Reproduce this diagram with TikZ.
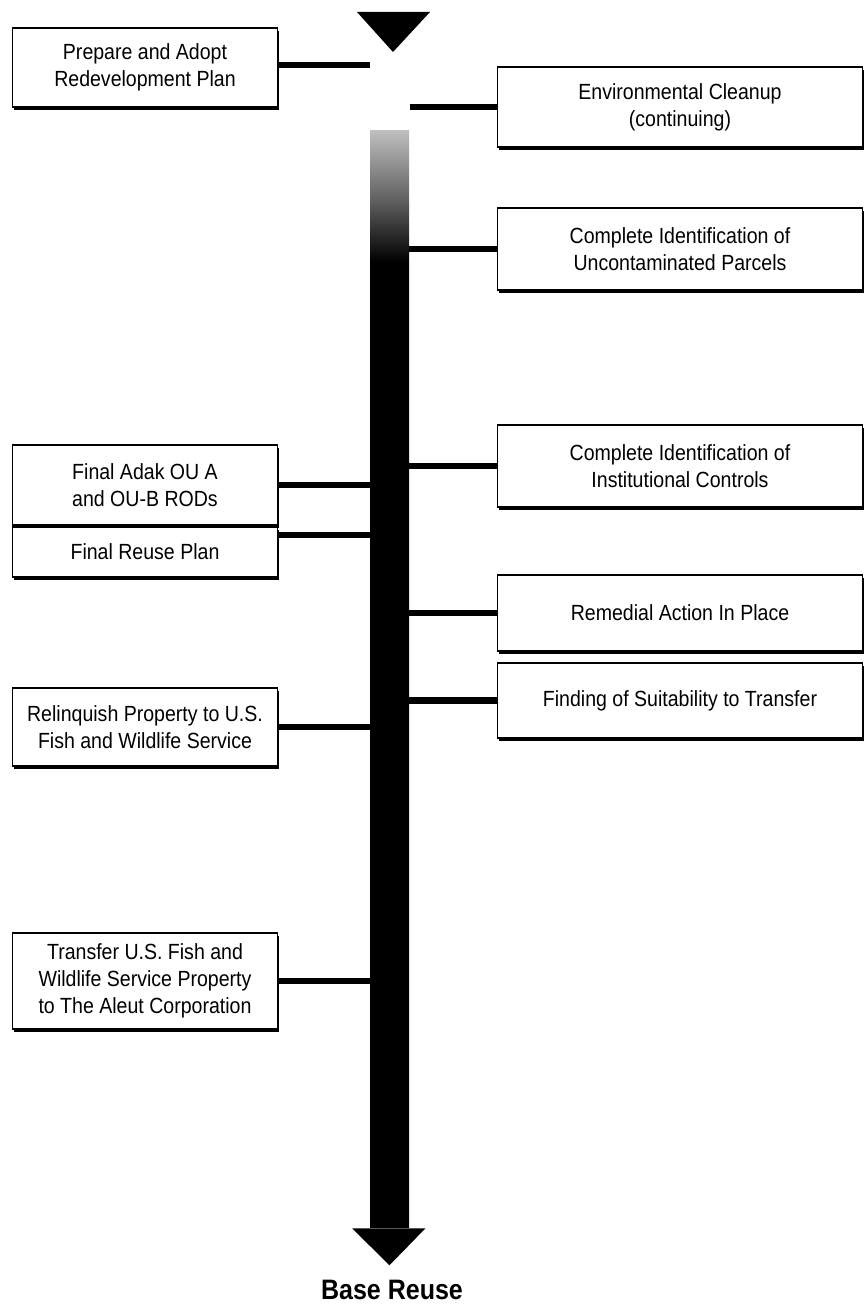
\documentclass[tikz,border=0pt]{standalone}
\usepackage{fontspec}
\setmainfont{Liberation Sans}[FakeStretch=0.89]
\usetikzlibrary{shadows,positioning}
\pgfdeclareverticalshading{barfade}{100bp}{color(0bp)=(black); color(69bp)=(black); color(72bp)=(black!60); color(75bp)=(black!25); color(100bp)=(black!25)}
\begin{document}
\begin{tikzpicture}[x=0.02cm,y=-0.02cm,line join=miter]
    \tikzset{box/.style={draw,line width=1pt,fill=white,align=center,inner sep=0pt,
            font=\fontsize{12.5}{15.3}\selectfont,
            drop shadow={shadow xshift=1pt,shadow yshift=-1.6pt,fill=black,opacity=1}},
        lbox/.style={box,minimum width=5.3cm},
        rbox/.style={box,minimum width=7.3cm},
        link/.style={line width=3.6pt}}
    \useasboundingbox (0,0) rectangle (865,1311);
    \node[shade,shading=barfade,minimum width=0.78cm,minimum height=21.96cm,inner sep=0pt] (bar) at (389.5,679) {};
    \fill (357,12) -- (430,12) -- (393,52) -- cycle;
    \fill ([xshift=-0.75cm]bar.south) -- ([xshift=0.72cm]bar.south) -- ([yshift=-0.74cm]bar.south) -- cycle;
    \node[font=\fontsize{16}{19}\selectfont\bfseries] (goal) at (392,1290) {Base Reuse};
    % left column
    \node[lbox,minimum height=1.58cm] (prep) at (145,67.5) {Prepare and Adopt\\Redevelopment Plan};
    \node[lbox,minimum height=1.6cm] (adak) at (145,485) {Final Adak OU A\\and OU-B RODs};
    \node[lbox,minimum height=1.0cm,below=0pt of adak] (reuse) {Final Reuse Plan};
    \node[lbox,minimum height=1.56cm] (relinq) at (145,727) {Relinquish Property to U.S.\\Fish and Wildlife Service};
    \node[lbox,minimum height=1.92cm] (transfer) at (145,981) {Transfer U.S. Fish and\\Wildlife Service Property\\to The Aleut Corporation};
    % right column
    \node[rbox,minimum height=1.6cm] (env) at (680,107) {Environmental Cleanup\\(continuing)};
    \node[rbox,minimum height=1.64cm] (parcels) at (680,249) {Complete Identification of\\Uncontaminated Parcels};
    \node[rbox,minimum height=1.64cm] (inst) at (680,466) {Complete Identification of\\Institutional Controls};
    \node[rbox,minimum height=1.52cm] (remedial) at (680,613) {Remedial Action In Place};
    \node[rbox,minimum height=1.5cm] (finding) at (680,700.5) {Finding of Suitability to Transfer};
    \coordinate (topin) at (370,65);
    \coordinate (envout) at (410,107);
    \draw[link] (prep.east |- topin) -- (topin);
    \draw[link] (envout) -- (env.west);
    \foreach \n in {parcels,inst,remedial,finding}
        \draw[link] (\n.west -| bar.east) -- (\n.west);
    \foreach \n in {adak,relinq,transfer}
        \draw[link] (\n.east) -- (\n.east -| bar.west);
    \draw[link] ([yshift=0.34cm]reuse.east) -- ([yshift=0.34cm]reuse.east -| bar.west);
\end{tikzpicture}
\end{document}
